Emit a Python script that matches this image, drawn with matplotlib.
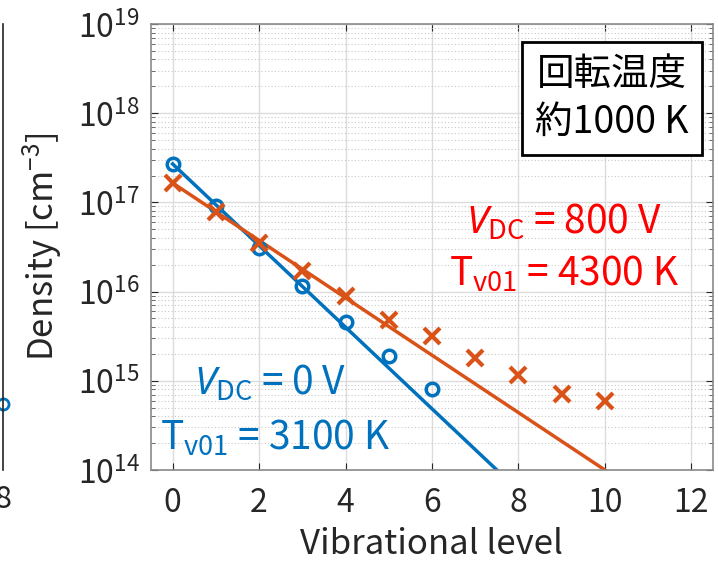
import matplotlib
matplotlib.use('Agg')
import matplotlib.pyplot as plt
from matplotlib.ticker import LogLocator, FixedLocator, NullFormatter

# データ
levels_0v = [0, 1, 2, 3, 4, 5, 6]
density_0v = [2.7e17, 9.1e16, 3.1e16, 1.15e16, 4.6e15, 1.9e15, 8.1e14]

levels_800v = [0, 1, 2, 3, 4, 5, 6, 7, 8, 9, 10]
density_800v = [1.65e17, 7.8e16, 3.5e16, 1.7e16, 8.9e15, 4.8e15, 3.2e15,
                1.8e15, 1.17e15, 7.1e14, 5.9e14]

fit_x_0v = [0, 7.5]
fit_y_0v = [2.7e17, 1e14]
fit_x_800v = [0, 10]
fit_y_800v = [1.65e17, 1e14]

xticks = [0, 2, 4, 6, 8, 10, 12]
yticks = [1e14, 1e15, 1e16, 1e17, 1e18, 1e19]
ytick_labels = [r'$10^{14}$', r'$10^{15}$', r'$10^{16}$', r'$10^{17}$', r'$10^{18}$', r'$10^{19}$']

# 隣のパネルの切れ端
neighbor_x = [8]
neighbor_y = [5.5e14]

BLUE = '#0072BD'
ORANGE = '#D95319'
RED = '#FF0000'
FONT = ['Noto Sans CJK JP', 'DejaVu Sans']

plt.rcParams['font.family'] = FONT
plt.rcParams['mathtext.fontset'] = 'custom'
plt.rcParams['mathtext.rm'] = 'Noto Sans CJK JP'
plt.rcParams['mathtext.it'] = 'Noto Sans:italic'
plt.rcParams['mathtext.default'] = 'regular'

fig = plt.figure(figsize=(7.18, 5.62), dpi=100)

# 左側の切れたパネル
axl = fig.add_axes([-0.30, 0.1637, 0.30 + 3 / 718, 0.7936])
axl.set_yscale('log')
axl.set_ylim(1e14, 1e19)
axl.set_xlim(0, 8)
axl.plot(neighbor_x, neighbor_y, 'o', mfc='none', mec=BLUE, ms=8, mew=2, clip_on=False)
for s in ['top', 'left', 'bottom']:
    axl.spines[s].set_visible(False)
axl.spines['right'].set_color('#222222')
axl.spines['right'].set_linewidth(1.2)
axl.set_yticks([])
axl.yaxis.set_minor_locator(FixedLocator([]))
axl.set_xticks([8])
axl.set_xticklabels(['8'], fontsize=22, color='#222222')
axl.tick_params(axis='x', length=0, pad=10)

# メインパネル
ax = fig.add_axes([151 / 718, 0.1637, 562 / 718, 0.7936])
ax.set_yscale('log')

ax.plot(fit_x_0v, fit_y_0v, '-', color=BLUE, lw=2.5)
ax.plot(fit_x_800v, fit_y_800v, '-', color=ORANGE, lw=2.5)
ax.plot(levels_0v, density_0v, 'o', mfc='none', mec=BLUE, ms=9, mew=2.5)
ax.plot(levels_800v, density_800v, 'x', color=ORANGE, ms=11, mew=3)

ax.set_xlim(-0.5, 12.5)
ax.set_ylim(1e14, 1e19)
ax.set_xticks(xticks)
ax.set_xticklabels([str(t) for t in xticks])
ax.set_yticks(yticks)
ax.set_yticklabels(ytick_labels)
ax.yaxis.set_minor_locator(LogLocator(base=10, subs=range(2, 10), numticks=20))
ax.yaxis.set_minor_formatter(NullFormatter())

ax.tick_params(axis='both', which='major', direction='in', labelsize=23, colors='#262626',
               length=5, top=True, right=True, pad=8)
ax.tick_params(axis='both', which='minor', direction='in', length=3, right=True, colors='#555555')
ax.tick_params(axis='x', pad=12)
for s in ax.spines.values():
    s.set_color('#8a8a8a')
    s.set_linewidth(1.2)

ax.grid(which='major', color='#dcdcdc', lw=1.0, ls='-')
ax.grid(which='minor', axis='y', color='#c8c8c8', lw=0.8, ls=(0, (1, 2)))
ax.set_axisbelow(True)

ax.set_xlabel('Vibrational level', fontsize=25, color='#262626', labelpad=6)
ax.set_ylabel(r'Density [cm$^{-3}$]', fontsize=25, color='#262626', labelpad=10)

# 注釈
ax.text(2.25, 9.4e14, r'$\mathit{V}_{\mathrm{DC}}$ = 0 V', color=BLUE, fontsize=28,
        ha='center', va='center')
ax.text(2.37, 2.3e14, r'T$_{\mathrm{v01}}$ = 3100 K', color=BLUE, fontsize=28,
        ha='center', va='center')
ax.text(9.05, 6.0e16, r'$\mathit{V}_{\mathrm{DC}}$ = 800 V', color=RED, fontsize=28,
        ha='center', va='center')
ax.text(9.05, 1.58e16, r'T$_{\mathrm{v01}}$ = 4300 K', color=RED, fontsize=28,
        ha='center', va='center')

ax.text(10.16, 4.5e18, '回転温度\n約1000 K', fontsize=27, color='black', ha='center', va='top',
        linespacing=1.3,
        bbox=dict(boxstyle='square,pad=0.35', fc='white', ec='black', lw=2))

fig.savefig('out.png', dpi=100)
